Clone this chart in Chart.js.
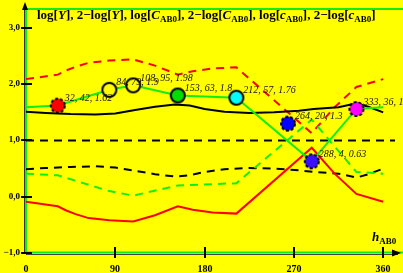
<!DOCTYPE html>
<html lang="en">
<head>
<meta charset="UTF-8">
<title>log Y, log C, log c over hue</title>
<script src="https://cdn.jsdelivr.net/npm/chart.js"></script>
<style>
  html, body { margin: 0; padding: 0; background: #ffff00; }
  canvas { display: block; }
</style>
</head>
<body>
<canvas id="hueChart" width="403" height="273"></canvas>
<script>
// hue grid of each curve and values
const yHue   = [0, 20, 45, 70, 90, 110, 130, 150, 165, 180, 200, 225, 250, 275, 290, 315, 333, 345, 360];
const logY   = [1.51, 1.49, 1.47, 1.46, 1.48, 1.54, 1.60, 1.64, 1.62, 1.56, 1.51, 1.49, 1.50, 1.53, 1.56, 1.59, 1.66, 1.60, 1.50];
const logYm  = [0.49, 0.51, 0.53, 0.54, 0.52, 0.46, 0.40, 0.36, 0.38, 0.44, 0.49, 0.51, 0.50, 0.47, 0.44, 0.41, 0.34, 0.40, 0.50];

const cHue   = [0, 32, 84, 108, 153, 212, 288, 333, 360];
const logC   = [1.59, 1.62, 1.90, 1.98, 1.80, 1.76, 0.63, 1.56, 1.59];
const logCm  = [0.41, 0.38, 0.10, 0.02, 0.20, 0.24, 1.37, 0.44, 0.41];

const rHue   = [0, 32, 40, 50, 63, 84, 108, 130, 153, 168, 188, 212, 288, 311, 333, 360];
const logc   = [-0.09, -0.17, -0.24, -0.31, -0.38, -0.42, -0.44, -0.33, -0.17, -0.23, -0.28, -0.30, 0.87, 0.41, 0.05, -0.09];
const logcm  = [2.09, 2.17, 2.24, 2.31, 2.38, 2.42, 2.44, 2.33, 2.17, 2.23, 2.28, 2.30, 1.13, 1.59, 1.95, 2.09];

const refHue = [0, 372];
const refVal = [1.0, 1.0];

// sample points: hue, chroma, log chroma
const ptHue    = [32, 84, 108, 153, 212, 264, 288, 333];
const ptChroma = [42, 79, 95, 63, 57, 20, 4, 36];
const ptLog    = [1.62, 1.9, 1.98, 1.8, 1.76, 1.3, 0.63, 1.56];

const yTicks = [3, 2, 1, 0, -1];
const yTickLabels = ['3,0', '2,0', '1,0', '0,0', '\u22121,0'];
const xTicks = [0, 90, 180, 270, 360];

const ptFill   = ['#ff0000', '#ffff00', '#ffff00', '#00dd00', '#00ffff', '#0000ff', '#3a10ff', '#ff00ff'];
const ptDashed = [true, false, false, false, false, true, true, true];

const GREEN = '#11ee11';
const SERIF = '"Liberation Serif", "DejaVu Serif", serif';

function xy(xs, ys) {
    return xs.map((h, i) => ({ x: h, y: ys[i] }));
}

function marker(fill, dashed) {
    const c = document.createElement('canvas');
    c.width = 18; c.height = 18;
    const g = c.getContext('2d');
    g.beginPath();
    g.arc(9, 9, 7, 0, Math.PI * 2);
    g.fillStyle = fill;
    g.fill();
    g.lineWidth = 2;
    g.strokeStyle = '#000';
    if (dashed) g.setLineDash([3, 2]);
    g.stroke();
    return c;
}

// draws a run of [text, kind] pieces: b = bold, i = bold italic, s = subscript
function richText(ctx, parts, x, base, size, subSize) {
    for (const [t, kind] of parts) {
        if (kind === 's') {
            ctx.font = 'bold ' + subSize + 'px ' + SERIF;
            ctx.fillText(t, x, base + 3);
        } else {
            ctx.font = (kind === 'i' ? 'italic bold ' : 'bold ') + size + 'px ' + SERIF;
            ctx.fillText(t, x, base);
        }
        x += ctx.measureText(t).width;
    }
}

const titleParts = [
    ['log[', 'b'], ['Y', 'i'], ['], 2\u2212log[', 'b'], ['Y', 'i'],
    ['], log[', 'b'], ['C', 'i'], ['AB0', 's'], ['], 2\u2212log[', 'b'], ['C', 'i'], ['AB0', 's'],
    ['], log[', 'b'], ['c', 'i'], ['AB0', 's'], ['], 2\u2212log[', 'b'], ['c', 'i'], ['AB0', 's'], [']', 'b']
];

const frame = {
    id: 'frame',
    beforeDatasetsDraw(chart) {
        const { ctx, chartArea: a, scales: { x, y } } = chart;
        const x0 = x.getPixelForValue(0);
        const yb = y.getPixelForValue(-1);
        ctx.save();

        // top border
        ctx.strokeStyle = GREEN;
        ctx.lineWidth = 2;
        ctx.beginPath();
        ctx.moveTo(x0, a.top + 1);
        ctx.lineTo(403, a.top + 1);
        ctx.stroke();

        // left axis
        ctx.strokeStyle = '#333';
        ctx.lineWidth = 1;
        ctx.beginPath();
        ctx.moveTo(x0 - 1.5, 4);
        ctx.lineTo(x0 - 1.5, yb);
        ctx.stroke();
        ctx.strokeStyle = GREEN;
        ctx.lineWidth = 2;
        ctx.beginPath();
        ctx.moveTo(x0, 8);
        ctx.lineTo(x0, yb);
        ctx.stroke();

        // bottom axis
        ctx.strokeStyle = '#444';
        ctx.lineWidth = 1;
        ctx.beginPath();
        ctx.moveTo(x0, yb + 1.5);
        ctx.lineTo(398, yb + 1.5);
        ctx.stroke();
        ctx.strokeStyle = GREEN;
        ctx.lineWidth = 2;
        ctx.beginPath();
        ctx.moveTo(x0, yb - 0.5);
        ctx.lineTo(403, yb - 0.5);
        ctx.stroke();

        // arrows
        ctx.fillStyle = '#000';
        ctx.beginPath();
        ctx.moveTo(x0 - 1, 2);
        ctx.lineTo(x0 - 4, 10);
        ctx.lineTo(x0 + 2, 10);
        ctx.closePath();
        ctx.fill();
        ctx.beginPath();
        ctx.moveTo(401, yb);
        ctx.lineTo(392, yb - 3.5);
        ctx.lineTo(392, yb + 3.5);
        ctx.closePath();
        ctx.fill();

        // tick marks and labels
        ctx.strokeStyle = '#000';
        ctx.lineWidth = 2;
        ctx.fillStyle = '#000';
        ctx.font = 'bold 9px ' + SERIF;
        ctx.textAlign = 'right';
        ctx.textBaseline = 'middle';
        yTicks.forEach((v, i) => {
            const py = Math.round(y.getPixelForValue(v));
            ctx.beginPath();
            ctx.moveTo(x0 - 5, py);
            ctx.lineTo(x0 + 6, py);
            ctx.stroke();
            ctx.fillText(yTickLabels[i], x0 - 6, py);
        });
        ctx.textAlign = 'center';
        ctx.font = 'bold 10px ' + SERIF;
        xTicks.forEach(v => {
            const px = Math.round(x.getPixelForValue(v));
            if (v > 0) {
                ctx.beginPath();
                ctx.moveTo(px, yb - 6);
                ctx.lineTo(px, yb + 5);
                ctx.stroke();
            }
            ctx.fillText(String(v), px, 269);
        });

        // title and axis name
        ctx.textAlign = 'left';
        ctx.textBaseline = 'alphabetic';
        richText(ctx, titleParts, 37, 19, 13, 9);
        richText(ctx, [['h', 'i'], ['AB0', 's']], 372, 241, 13, 9);
        ctx.restore();
    },
    afterDatasetsDraw(chart) {
        const { ctx } = chart;
        const meta = chart.getDatasetMeta(0);
        ctx.save();
        ctx.fillStyle = '#111';
        ctx.font = 'italic 10px ' + SERIF;
        ctx.textBaseline = 'middle';
        ctx.textAlign = 'left';
        meta.data.forEach((el, i) => {
            const txt = ptHue[i] + ', ' + ptChroma[i] + ', ' + ptLog[i];
            ctx.fillText(txt, el.x + 7, el.y - 7);
        });
        ctx.restore();
    }
};

const line = (data, color, dashed) => ({
    data: data,
    borderColor: color,
    borderWidth: 2,
    borderDash: dashed ? [8, 6] : [],
    pointRadius: 0,
    fill: false,
    tension: 0
});

new Chart(document.getElementById('hueChart'), {
    type: 'line',
    data: {
        datasets: [
            {
                data: xy(ptHue, ptLog),
                showLine: false,
                pointStyle: ptFill.map((f, i) => marker(f, ptDashed[i])),
                pointRadius: 7
            },
            line(xy(cHue, logC), GREEN, false),
            line(xy(yHue, logY), '#000', false),
            line(xy(rHue, logc), '#ff0000', false),
            line(xy(cHue, logCm), GREEN, true),
            line(xy(yHue, logYm), '#000', true),
            line(xy(rHue, logcm), '#ff0000', true),
            line(xy(refHue, refVal), '#000', true)
        ]
    },
    options: {
        responsive: false,
        animation: false,
        events: [],
        layout: { padding: { left: 26, right: 2, top: 7, bottom: 20 } },
        plugins: { legend: { display: false }, tooltip: { enabled: false } },
        scales: {
            x: { type: 'linear', min: 0, max: 371.9, display: false },
            y: { type: 'linear', min: -1, max: 3.354, display: false }
        }
    },
    plugins: [frame]
});
</script>
</body>
</html>
